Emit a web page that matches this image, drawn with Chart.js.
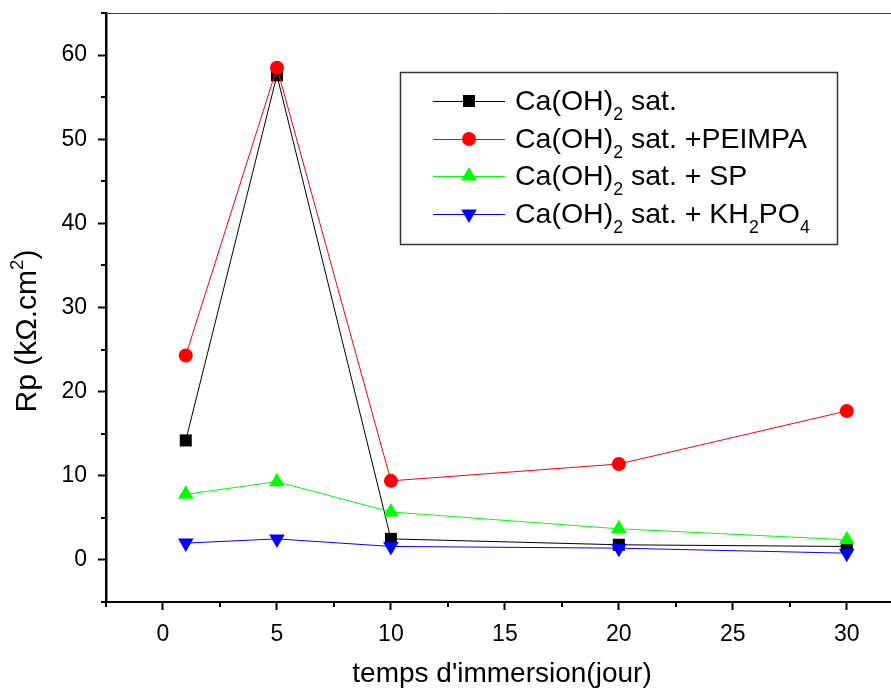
<!DOCTYPE html>
<html>
<head>
<meta charset="utf-8">
<script src="https://cdn.jsdelivr.net/npm/chart.js@4/dist/chart.umd.min.js"></script>
<style>
    html, body { margin: 0; padding: 0; background: #fff; overflow: hidden; }
    #wrap { width: 891px; height: 691px; }
</style>
</head>
<body>
<div id="wrap"><canvas id="chart-rp" width="891" height="691"></canvas></div>
<script>
// data
const days = [1, 5, 10, 20, 30];
const rpCaOH = [14.2, 57.6, 2.5, 1.8, 1.6];
const rpPEIMPA = [24.3, 58.5, 9.4, 11.4, 17.7];
const rpSP = [7.8, 9.3, 5.7, 3.7, 2.4];
const rpKH2PO4 = [2.0, 2.5, 1.6, 1.4, 0.8];

const xTicks = [-2.5, 0, 2.5, 5, 7.5, 10, 12.5, 15, 17.5, 20, 22.5, 25, 27.5, 30];
const yTicks = [-5, 0, 5, 10, 15, 20, 25, 30, 35, 40, 45, 50, 55, 60, 65];

// legend labels, split in parts for the subscripts
const legendLabels = [
    [["Ca(OH)"], ["2", "sub"], [" sat."]],
    [["Ca(OH)"], ["2", "sub"], [" sat. +PEIMPA"]],
    [["Ca(OH)"], ["2", "sub"], [" sat. + SP"]],
    [["Ca(OH)"], ["2", "sub"], [" sat. + KH"], ["2", "sub"], ["PO"], ["4", "sub"]]
];

const FONT = "'Liberation Sans', Arial, sans-serif";

function series(values, color, style, radius, rotation, order) {
    return {
        data: values.map((v, i) => ({ x: days[i], y: v })),
        borderColor: color, backgroundColor: color, borderWidth: 1,
        pointStyle: style, pointRadius: radius, pointHoverRadius: radius,
        pointRotation: rotation, pointBorderWidth: 0, order: order, clip: false
    };
}

// draw a run of text parts (normal / sub / sup), returns the end x
function richText(ctx, parts, x, y, size) {
    for (let p of parts) {
        let s = size, dy = 0;
        if (p[1] == "sub") { s = size * 0.62; dy = size * 0.36; }
        if (p[1] == "sup") { s = size * 0.62; dy = -size * 0.45; }
        ctx.font = s + "px " + FONT;
        ctx.fillText(p[0], x, y + dy);
        x += ctx.measureText(p[0]).width;
    }
    return x;
}

function richWidth(ctx, parts, size) {
    let w = 0;
    for (let p of parts) {
        let s = p[1] ? size * 0.62 : size;
        ctx.font = s + "px " + FONT;
        w += ctx.measureText(p[0]).width;
    }
    return w;
}

function noPad(s) {
    s.paddingTop = 0; s.paddingBottom = 0; s.paddingLeft = 0; s.paddingRight = 0;
}

const decorations = {
    id: 'decorations',
    afterDraw(chart) {
        const ctx = chart.ctx, area = chart.chartArea;
        const xs = chart.scales.x, ys = chart.scales.y;
        ctx.save();
        ctx.fillStyle = '#000';
        ctx.textBaseline = 'alphabetic';
        ctx.textAlign = 'left';

        // top frame line
        ctx.strokeStyle = '#444';
        ctx.lineWidth = 1;
        ctx.beginPath();
        ctx.moveTo(area.left, area.top + 0.5);
        ctx.lineTo(area.right, area.top + 0.5);
        ctx.stroke();

        // minor ticks (shorter)
        ctx.strokeStyle = '#000';
        ctx.lineWidth = 2;
        ctx.beginPath();
        for (let v of xTicks) {
            if (v % 5 == 0) continue;
            let px = Math.round(xs.getPixelForValue(v));
            ctx.moveTo(px, area.bottom);
            ctx.lineTo(px, area.bottom + 5);
        }
        for (let v of yTicks) {
            if (v % 10 == 0) continue;
            let py = Math.round(ys.getPixelForValue(v));
            ctx.moveTo(area.left, py);
            ctx.lineTo(area.left - 5, py);
        }
        ctx.stroke();

        // axis titles
        ctx.font = "28px " + FONT;
        ctx.textAlign = 'center';
        ctx.fillText("temps d'immersion(jour)", 502, 682);
        ctx.textAlign = 'left';
        const yTitle = [["Rp (k\u03A9.cm"], ["2", "sup"], [")"]];
        let w = richWidth(ctx, yTitle, 30);
        ctx.save();
        ctx.translate(36, 331 + w / 2);
        ctx.rotate(-Math.PI / 2);
        richText(ctx, yTitle, 0, 0, 30);
        ctx.restore();

        // legend box
        ctx.strokeStyle = '#333';
        ctx.lineWidth = 1.5;
        ctx.strokeRect(400.5, 72.5, 437, 172);
        const rows = [101, 139, 176, 214];
        chart.data.datasets.forEach((ds, i) => {
            let y = rows[i];
            ctx.strokeStyle = ds.borderColor;
            ctx.lineWidth = 1;
            ctx.beginPath();
            ctx.moveTo(433, y + 0.5);
            ctx.lineTo(505, y + 0.5);
            ctx.stroke();
            ctx.fillStyle = ds.backgroundColor;
            Chart.helpers.drawPoint(ctx, {
                pointStyle: ds.pointStyle, radius: ds.pointRadius,
                rotation: ds.pointRotation, borderWidth: 0
            }, 469, y);
            ctx.fillStyle = '#000';
            richText(ctx, legendLabels[i], 515, y + 9, 28.5);
        });
        ctx.restore();
    }
};

new Chart(document.getElementById('chart-rp').getContext('2d'), {
    type: 'line',
    data: {
        datasets: [
            series(rpCaOH, '#000000', 'rect', 8.5, 0, 4),
            series(rpPEIMPA, '#ff0000', 'circle', 7, 0, 3),
            series(rpSP, '#00ff00', 'triangle', 9, 0, 2),
            series(rpKH2PO4, '#0000ff', 'triangle', 9, 180, 1)
        ]
    },
    options: {
        responsive: false,
        animation: false,
        layout: { autoPadding: false, padding: { top: 13, right: 0, left: 0, bottom: 0 } },
        plugins: { legend: { display: false }, tooltip: { enabled: false } },
        scales: {
            x: {
                type: 'linear', min: -2.5, max: 31.94,
                afterFit: s => { s.height = 89; noPad(s); },
                afterBuildTicks: s => { s.ticks = xTicks.map(v => ({ value: v })); },
                ticks: {
                    autoSkip: false, maxRotation: 0, color: '#000', padding: 11,
                    font: { family: FONT, size: 23 },
                    callback: v => (v % 5 == 0 ? String(v) : '')
                },
                grid: {
                    drawOnChartArea: false, tickLength: 8, tickWidth: 2,
                    tickColor: c => (c.tick && c.tick.value % 5 == 0 ? '#000' : 'rgba(0,0,0,0)')
                },
                border: { color: '#000', width: 2 }
            },
            y: {
                type: 'linear', min: -5, max: 65,
                afterFit: s => { s.width = 106; noPad(s); },
                afterBuildTicks: s => { s.ticks = yTicks.map(v => ({ value: v })); },
                ticks: {
                    autoSkip: false, color: '#000', padding: 11,
                    font: { family: FONT, size: 23 },
                    callback: v => (v % 10 == 0 ? String(v) : '')
                },
                grid: {
                    drawOnChartArea: false, tickLength: 8, tickWidth: 2,
                    tickColor: c => (c.tick && c.tick.value % 10 == 0 ? '#000' : 'rgba(0,0,0,0)')
                },
                border: { color: '#000', width: 2.5 }
            }
        }
    },
    plugins: [decorations]
});
</script>
</body>
</html>
